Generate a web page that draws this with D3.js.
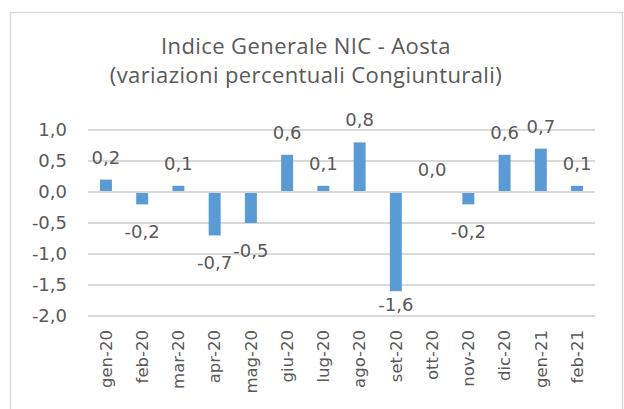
<!DOCTYPE html>
<html>
<head>
<meta charset="utf-8">
<script src="https://cdn.jsdelivr.net/npm/d3@7"></script>
<style>
  body { margin: 0; background: #fff; }
</style>
</head>
<body>
<div id="chart"></div>
<script>
const months = ['gen-20', 'feb-20', 'mar-20', 'apr-20', 'mag-20', 'giu-20', 'lug-20',
  'ago-20', 'set-20', 'ott-20', 'nov-20', 'dic-20', 'gen-21', 'feb-21'];
const values = [0.2, -0.2, 0.1, -0.7, -0.5, 0.6, 0.1, 0.8, -1.6, 0.0, -0.2, 0.6, 0.7, 0.1];
const yTicks = [1.0, 0.5, 0.0, -0.5, -1.0, -1.5, -2.0];
const titleLines = ['Indice Generale NIC - Aosta', '(variazioni percentuali Congiunturali)'];

const width = 624;
const height = 409;

const barColor = '#5B9BD5';
const gridColor = '#d9d9d9';
const fontColor = '#595959';
const numFont = 'DejaVu Sans';

const svg = d3.select('#chart').append('svg')
  .attr('width', width).attr('height', height);

// chart frame
svg.append('rect')
  .attr('x', 10.5).attr('y', 12.5)
  .attr('width', 612).attr('height', 420)
  .attr('fill', 'none')
  .attr('stroke', gridColor)
  .attr('stroke-width', 1.5);

const x = d3.scaleBand()
  .domain(months)
  .range([88, 595])
  .paddingInner(0.67)
  .paddingOuter(0.33);

const y = d3.scaleLinear()
  .domain([-2, 1])
  .range([316, 130]);

const fmt = v => d3.format('.1f')(v).replace('.', ',').replace('−', '-');

// title
svg.append('g').selectAll('text')
  .data(titleLines)
  .join('text')
  .attr('x', 306)
  .attr('y', (d, i) => 54 + i * 29)
  .attr('text-anchor', 'middle')
  .attr('font-family', 'Open Sans')
  .attr('font-size', '22px')
  .attr('letter-spacing', '0.4px')
  .attr('fill', fontColor)
  .text(d => d);

// gridlines
svg.append('g').selectAll('line')
  .data(yTicks)
  .join('line')
  .attr('x1', 88).attr('x2', 595)
  .attr('y1', d => y(d)).attr('y2', d => y(d))
  .attr('stroke', gridColor)
  .attr('stroke-width', 2);

// y axis labels
const yAxis = svg.append('g')
  .attr('transform', 'translate(67,0)')
  .call(d3.axisLeft(y).tickValues(yTicks).tickSize(0).tickPadding(0).tickFormat(fmt));
yAxis.select('.domain').remove();
yAxis.selectAll('text')
  .attr('font-family', numFont)
  .attr('font-size', '18px')
  .attr('fill', fontColor);

// bars
svg.append('g').selectAll('rect')
  .data(values)
  .join('rect')
  .attr('x', (d, i) => x(months[i]))
  .attr('width', x.bandwidth())
  .attr('y', d => d >= 0 ? y(d) : y(0) + 1)
  .attr('height', d => d >= 0 ? y(0) - 1 - y(d) : y(d) - y(0) - 1)
  .attr('fill', barColor);

// data labels
svg.append('g').selectAll('text')
  .data(values)
  .join('text')
  .attr('x', (d, i) => x(months[i]) + x.bandwidth() / 2)
  .attr('y', d => d >= 0 ? y(d) - 16 : Math.min(y(d) + 34, y(-2) - 5))
  .attr('text-anchor', 'middle')
  .attr('font-family', numFont)
  .attr('font-size', '18px')
  .attr('fill', fontColor)
  .text(fmt);

// x axis labels
const xAxis = svg.append('g')
  .attr('transform', 'translate(0,329)')
  .call(d3.axisBottom(x).tickSize(0).tickPadding(0));
xAxis.select('.domain').remove();
xAxis.selectAll('text')
  .attr('transform', 'rotate(-90)')
  .attr('text-anchor', 'end')
  .attr('dy', '0.35em')
  .attr('x', -1)
  .attr('y', 0)
  .attr('font-family', numFont)
  .attr('font-size', '16.5px')
  .attr('fill', fontColor);
</script>
</body>
</html>
